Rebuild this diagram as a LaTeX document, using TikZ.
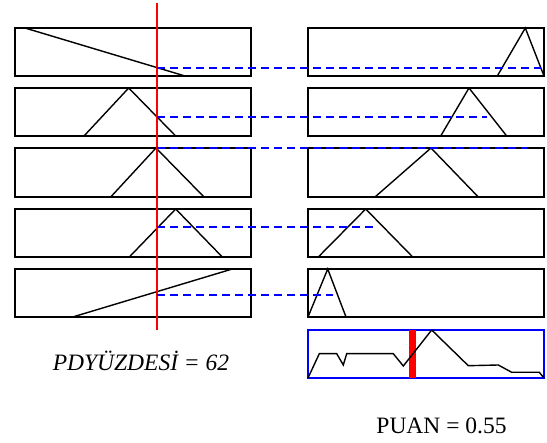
\documentclass[tikz,border=0pt]{standalone}
\usepackage{fontspec}
\setmainfont{Liberation Serif}
\usetikzlibrary{positioning}

\begin{document}
\begin{tikzpicture}[
        x=1pt, y=-1pt,
        box/.style={draw, line width=2pt},
        mf/.style={draw, line width=1.4pt},
        cut/.style={draw=blue, dash pattern=on 8pt off 5pt, line width=2pt},
        caption/.style={font=\fontsize{23.5}{26}\selectfont, inner sep=0pt, anchor=base},
    ]
        \useasboundingbox (0,0) rectangle (547,443);

        % Input boxes
        \draw[box] (15,28) rectangle (251,76);
        \draw[box] (15,88) rectangle (251,136);
        \draw[box] (15,148) rectangle (251,197);
        \draw[box] (15,209) rectangle (251,257);
        \draw[box] (15,269) rectangle (251,317);

        % Output boxes
        \draw[box] (308,28) rectangle (544,76);
        \draw[box] (308,88) rectangle (544,136);
        \draw[box] (308,148) rectangle (544,197);
        \draw[box] (308,209) rectangle (544,257);
        \draw[box] (308,269) rectangle (544,317);

        % Input membership functions
        \draw[mf] (25,28) -- (185,76);
        \draw[mf] (84,136) -- (128.7,88) -- (175.7,136);
        \draw[mf] (110.7,197) -- (156,148) -- (204,197);
        \draw[mf] (129.3,257) -- (175.7,209) -- (222.3,257);
        \draw[mf] (72.7,317) -- (232.3,269);

        % Output membership functions
        \draw[mf] (497.3,76) -- (525.3,28) -- (544,76);
        \draw[mf] (440.7,136) -- (469,88) -- (506.7,136);
        \draw[mf] (375,197) -- (431,148) -- (478.3,197);
        \draw[mf] (318.3,257) -- (365.7,209) -- (412.7,257);
        \draw[mf] (308,317) -- (327.7,269) -- (346,317);

        % Input value
        \coordinate (top) at (157,3);
        \coordinate (bot) at (157,330);
        \draw[red, line width=2pt] (top) -- (bot);

        % Rule strengths
        \draw[cut] (157,68) -- (541,68);
        \draw[cut] (157,117) -- (487,117);
        \draw[cut] (157,148) -- (527,148);
        \draw[cut] (157,227) -- (373,227);
        \draw[cut] (157,295) -- (333,295);

        % Aggregated output
        \draw[blue, line width=1.5pt] (308,330) rectangle (544,378);
        \fill[red] (409,330) rectangle (416,378);
        \draw[mf] (308,378) -- (319.3,353.7) -- (336.7,353.7) -- (343.3,365)
            -- (346.7,353.7) -- (393.3,353.7) -- (403.3,366) -- (431.7,330)
            -- (468.3,365.7) -- (498.3,365) -- (511.7,372.3) -- (539.3,372.3)
            -- (544,378);

        % Labels
        \node[caption, font=\fontsize{23.5}{26}\selectfont\itshape] (pct) at (141,370.7) {PDYÜZDESİ = 62};
        \node[caption] (score) at (441.5,434) {PUAN = 0.55};

    \end{tikzpicture}
\end{document}
